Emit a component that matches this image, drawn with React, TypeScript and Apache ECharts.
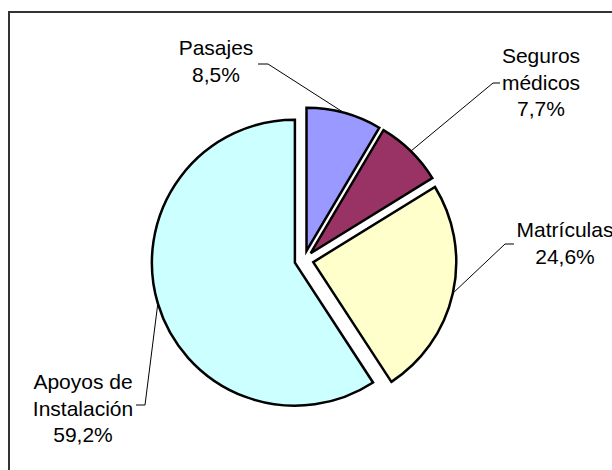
import React, { useEffect, useRef } from 'react';
import * as echarts from 'echarts';

// ---- data ----
const categories = ['Pasajes', 'Seguros\nmédicos', 'Matrículas', 'Apoyos de\nInstalación'];
const shares = [8.5, 7.7, 24.6, 59.2];
const sliceColors = ['#9999FF', '#993366', '#FFFFCC', '#CCFFFF'];

// ---- layout (not data) ----
const PIE_CENTER = [304, 260];
const PIE_RADIUS = 143;
const EXPLODE = 9.5;
const labelAnchors = [
  [216, 61],
  [541, 82],
  [565, 243],
  [83, 408],
];
const leaderTails = [
  [[268, 64], [258, 64]],
  [[493, 83], [500, 83]],
  [[505, 244], [514, 244]],
  [[145, 405], [136, 405]],
];

export default function App() {
  const ref = useRef<HTMLDivElement>(null);

  useEffect(() => {
    if (!ref.current) return;
    const chart = echarts.init(ref.current, undefined, { renderer: 'svg' });

    const total = shares.reduce((a, b) => a + b, 0);
    let acc = 0;
    const mids = shares.map((v) => {
      const m = ((acc + v / 2) / total) * 360;
      acc += v;
      return m;
    });

    const series = shares.map((_, i) => {
      const rad = (mids[i] * Math.PI) / 180;
      const dx = Math.sin(rad);
      const dy = -Math.cos(rad);
      const cx = PIE_CENTER[0] + EXPLODE * dx;
      const cy = PIE_CENTER[1] + EXPLODE * dy;
      const arcPt = [cx + PIE_RADIUS * dx, cy + PIE_RADIUS * dy];
      return {
        type: 'pie',
        center: [cx, cy],
        radius: PIE_RADIUS,
        startAngle: 90,
        clockwise: true,
        silent: true,
        avoidLabelOverlap: false,
        data: shares.map((v, j) => ({
          name: categories[j],
          value: v,
          itemStyle:
            j === i
              ? { color: sliceColors[j], borderColor: '#000', borderWidth: 2.5, borderJoin: 'miter' }
              : { color: 'rgba(0,0,0,0)', borderWidth: 0 },
          label: { show: j === i },
          labelLine: { show: j === i },
        })),
        label: {
          formatter: (p: any) => `${p.name}\n${p.percent.toFixed(1).replace('.', ',')}%`,
          fontSize: 21,
          lineHeight: 26.5,
          color: '#000',
          fontFamily: 'Liberation Sans, Arial, sans-serif',
        },
        labelLine: { show: true, lineStyle: { color: '#000', width: 1 } },
        labelLayout: (p: any) =>
          p.dataIndex === i
            ? {
                x: labelAnchors[i][0],
                y: labelAnchors[i][1],
                align: 'center',
                verticalAlign: 'middle',
                labelLinePoints: [arcPt, ...leaderTails[i]],
              }
            : {},
      };
    });

    chart.setOption({
      animation: false,
      backgroundColor: '#fff',
      graphic: [
        {
          type: 'rect',
          shape: { x: 9, y: 12, width: 700, height: 600 },
          style: { fill: 'none', stroke: '#333', lineWidth: 2 },
          z: -10,
          silent: true,
        },
      ],
      series,
    });

    return () => chart.dispose();
  }, []);

  return (
    <div
      ref={ref}
      style={{ position: 'absolute', left: 0, top: 0, width: 612, height: 470, background: '#fff' }}
    />
  );
}
